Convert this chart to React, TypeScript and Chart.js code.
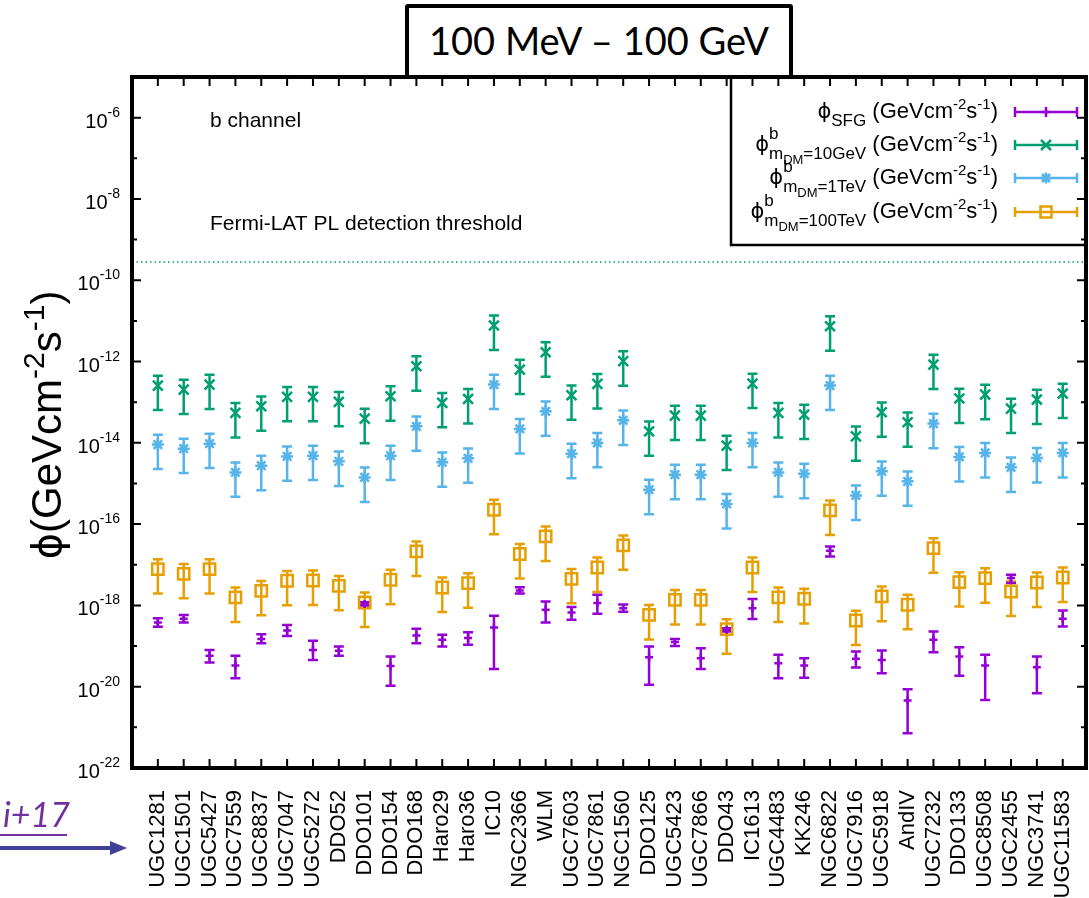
import React, { useEffect, useRef } from "react";
import { Chart, registerables } from "chart.js";

Chart.register(...registerables);

// ---------------- data ----------------
const galaxies = [
  "UGC1281", "UGC1501", "UGC5427", "UGC7559", "UGC8837", "UGC7047", "UGC5272", "DDO52",
  "DDO101", "DDO154", "DDO168", "Haro29", "Haro36", "IC10", "NGC2366", "WLM",
  "UGC7603", "UGC7861", "NGC1560", "DDO125", "UGC5423", "UGC7866", "DDO43", "IC1613",
  "UGC4483", "KK246", "NGC6822", "UGC7916", "UGC5918", "AndIV", "UGC7232", "DDO133",
  "UGC8508", "UGC2455", "NGC3741", "UGC11583",
];

// phi_SFG (centre, lower end, upper end of error bar)
const sfgFlux = [
  3.79e-19, 4.68e-19, 5.74e-20, 3.31e-20, 1.5e-19, 2.41e-19, 8.05e-20, 7.62e-20,
  1.09e-18, 3.25e-20, 1.82e-19, 1.42e-19, 1.57e-19, 2.86e-19, 2.33e-18, 7.8e-19,
  6.68e-19, 1.14e-18, 8.57e-19, 5.33e-20, 1.25e-19, 5.04e-20, 2.51e-19, 8.57e-19,
  3.79e-20, 3.31e-20, 2.21e-17, 4.84e-20, 4.57e-20, 4.55e-21, 1.42e-19, 5.51e-20,
  3.31e-20, 4.7e-18, 3.02e-20, 4.68e-19,
];
const sfgHigh = [
  4.8e-19, 5.8e-19, 8.05e-20, 5.74e-20, 1.96e-19, 3.32e-19, 1.36e-19, 9.72e-20,
  1.2e-18, 5.51e-20, 2.65e-19, 1.89e-19, 2.2e-19, 5.54e-19, 2.8e-18, 1.25e-18,
  9.08e-19, 1.82e-18, 1.05e-18, 9.72e-20, 1.5e-19, 8.87e-20, 2.75e-19, 1.43e-18,
  6.07e-20, 5.04e-20, 2.83e-17, 7.33e-20, 7.74e-20, 8.67e-21, 2.28e-19, 9.4e-20,
  6.07e-20, 5.68e-18, 5.51e-20, 7.48e-19,
];
const sfgLow = [
  3.0e-19, 3.8e-19, 3.93e-20, 1.62e-20, 1.18e-19, 1.78e-19, 4.57e-20, 5.74e-20,
  9.9e-19, 1.06e-20, 1.18e-19, 9.72e-20, 1.07e-19, 2.74e-20, 1.95e-18, 3.79e-19,
  4.42e-19, 6.21e-19, 7.0e-19, 1.11e-20, 1.0e-19, 2.74e-20, 2.28e-19, 4.6e-19,
  1.62e-20, 1.67e-20, 1.6e-17, 2.95e-20, 2.15e-20, 7.16e-22, 7.08e-20, 1.85e-20,
  4.73e-21, 3.54e-18, 6.92e-21, 3.02e-19,
];

// phi^b, m_DM = 10 GeV
const dm10GeV = [
  2.56e-13, 2.04e-13, 2.71e-13, 5.44e-14, 7.93e-14, 1.35e-13, 1.35e-13, 1.02e-13,
  3.94e-14, 1.4e-13, 7.66e-13, 9.62e-14, 1.2e-13, 7.71e-12, 6.35e-13, 1.69e-12,
  1.48e-13, 2.82e-13, 1.02e-12, 1.92e-14, 4.68e-14, 4.68e-14, 8.53e-15, 2.87e-13,
  5.44e-14, 4.95e-14, 7.39e-12, 1.44e-14, 5.64e-14, 3.2e-14, 8.43e-13, 1.23e-13,
  1.54e-13, 6.95e-14, 1.16e-13, 1.63e-13,
];
const dm10GeVErr = [
  1.92e-13, 1.53e-13, 2.03e-13, 4.08e-14, 5.95e-14, 1.01e-13, 1.01e-13, 7.65e-14,
  2.96e-14, 1.05e-13, 5.75e-13, 7.22e-14, 9.0e-14, 5.78e-12, 4.76e-13, 1.27e-12,
  1.11e-13, 2.12e-13, 7.65e-13, 1.44e-14, 3.51e-14, 3.51e-14, 6.4e-15, 2.15e-13,
  4.08e-14, 3.71e-14, 5.54e-12, 1.08e-14, 4.23e-14, 2.4e-14, 6.32e-13, 9.23e-14,
  1.16e-13, 5.21e-14, 8.7e-14, 1.22e-13,
];

// phi^b, m_DM = 1 TeV
const dm1TeV = [
  9.04e-15, 7.19e-15, 9.55e-15, 1.87e-15, 2.74e-15, 4.64e-15, 4.84e-15, 3.5e-15,
  1.41e-15, 4.84e-15, 2.55e-14, 3.31e-15, 4.15e-15, 2.71e-13, 2.2e-14, 5.97e-14,
  5.42e-15, 9.96e-15, 3.58e-14, 7.03e-16, 1.65e-15, 1.65e-15, 3.13e-16, 9.96e-15,
  1.87e-15, 1.74e-15, 2.56e-13, 5.09e-16, 1.99e-15, 1.13e-15, 2.97e-14, 4.5e-15,
  5.64e-15, 2.49e-15, 4.25e-15, 5.64e-15,
];
const dm1TeVErr = [
  6.78e-15, 5.39e-15, 7.16e-15, 1.4e-15, 2.06e-15, 3.48e-15, 3.63e-15, 2.63e-15,
  1.06e-15, 3.63e-15, 1.91e-14, 2.48e-15, 3.11e-15, 2.03e-13, 1.65e-14, 4.48e-14,
  4.07e-15, 7.47e-15, 2.69e-14, 5.27e-16, 1.24e-15, 1.24e-15, 2.35e-16, 7.47e-15,
  1.4e-15, 1.31e-15, 1.92e-13, 3.82e-16, 1.49e-15, 8.48e-16, 2.23e-14, 3.38e-15,
  4.23e-15, 1.87e-15, 3.19e-15, 4.23e-15,
];

// phi^b, m_DM = 100 TeV
const dm100TeV = [
  7.83e-18, 6.0e-18, 7.83e-18, 1.57e-18, 2.29e-18, 4.04e-18, 4.1e-18, 3.04e-18,
  1.18e-18, 4.28e-18, 2.13e-17, 2.76e-18, 3.54e-18, 2.26e-16, 1.84e-17, 4.98e-17,
  4.52e-18, 8.57e-18, 2.99e-17, 5.86e-19, 1.37e-18, 1.37e-18, 2.61e-19, 8.57e-18,
  1.57e-18, 1.46e-18, 2.17e-16, 4.25e-19, 1.66e-18, 1.04e-18, 2.58e-17, 3.75e-18,
  4.7e-18, 2.2e-18, 3.66e-18, 4.86e-18,
];
const dm100TeVErr = [
  5.87e-18, 4.5e-18, 5.87e-18, 1.18e-18, 1.72e-18, 3.03e-18, 3.08e-18, 2.28e-18,
  8.85e-19, 3.21e-18, 1.6e-17, 2.07e-18, 2.66e-18, 1.7e-16, 1.38e-17, 3.74e-17,
  3.39e-18, 6.43e-18, 2.24e-17, 4.4e-19, 1.03e-18, 1.03e-18, 1.96e-19, 6.43e-18,
  1.18e-18, 1.1e-18, 1.63e-16, 3.19e-19, 1.25e-18, 7.8e-19, 1.94e-17, 2.81e-18,
  3.53e-18, 1.65e-18, 2.75e-18, 3.65e-18,
];

const yTickExponents = [-22, -20, -18, -16, -14, -12, -10, -8, -6];
const yMinorExponents = [-21, -19, -17, -15, -13, -11, -9, -7, -5];
const thresholdFlux = 2.8e-10;

const colSFG = "#9400D3";
const colDM10 = "#009E73";
const colDM1 = "#56B4E9";
const colDM100 = "#E69F00";

const FONT = '"Liberation Sans", Arial, Helvetica, sans-serif';

// ---------------- helpers ----------------
type Seg = { t: string; size: number; dy?: number; stack?: boolean; family?: string };

function drawRich(ctx: CanvasRenderingContext2D, segs: Seg[], x: number, y: number, align: "left" | "right" | "center") {
  let w = 0;
  for (const s of segs) {
    ctx.font = `${s.size}px ${s.family || FONT}`;
    if (!s.stack) w += ctx.measureText(s.t).width;
  }
  let cx = align === "right" ? x - w : align === "center" ? x - w / 2 : x;
  ctx.textAlign = "left";
  ctx.textBaseline = "alphabetic";
  for (const s of segs) {
    ctx.font = `${s.size}px ${s.family || FONT}`;
    ctx.fillText(s.t, cx, y + (s.dy || 0));
    if (!s.stack) cx += ctx.measureText(s.t).width;
  }
}

function drawMarker(ctx: CanvasRenderingContext2D, kind: string, x: number, y: number) {
  ctx.beginPath();
  if (kind === "plus") {
    ctx.moveTo(x - 4, y); ctx.lineTo(x + 4, y);
    ctx.moveTo(x, y - 5); ctx.lineTo(x, y + 5);
  } else if (kind === "x") {
    ctx.moveTo(x - 5, y - 5); ctx.lineTo(x + 5, y + 5);
    ctx.moveTo(x - 5, y + 5); ctx.lineTo(x + 5, y - 5);
  } else if (kind === "star") {
    ctx.moveTo(x - 4, y - 4); ctx.lineTo(x + 4, y + 4);
    ctx.moveTo(x - 4, y + 4); ctx.lineTo(x + 4, y - 4);
    ctx.moveTo(x - 5.5, y); ctx.lineTo(x + 5.5, y);
    ctx.moveTo(x, y - 5.5); ctx.lineTo(x, y + 5.5);
  } else if (kind === "square") {
    ctx.rect(x - 5.5, y - 5.5, 11, 11);
  }
  ctx.stroke();
}

const errorSeries = [
  { color: colDM10, low: dm10GeV.map((v, i) => v - dm10GeVErr[i]), high: dm10GeV.map((v, i) => v + dm10GeVErr[i]) },
  { color: colDM1, low: dm1TeV.map((v, i) => v - dm1TeVErr[i]), high: dm1TeV.map((v, i) => v + dm1TeVErr[i]) },
  { color: colDM100, low: dm100TeV.map((v, i) => v - dm100TeVErr[i]), high: dm100TeV.map((v, i) => v + dm100TeVErr[i]) },
  { color: colSFG, low: sfgLow, high: sfgHigh },
];

const PHI = "ϕ";
const PHI_FAMILY = '"DejaVu Sans", sans-serif';

const unitSegs: Seg[] = [
  { t: " (GeVcm", size: 22 }, { t: "-2", size: 15, dy: -9 }, { t: "s", size: 22 },
  { t: "-1", size: 15, dy: -9 }, { t: ")", size: 22 },
];

const legendRows: { segs: Seg[]; color: string; marker: string }[] = [
  {
    color: colSFG, marker: "plus",
    segs: [{ t: PHI, size: 21, family: PHI_FAMILY }, { t: "SFG", size: 17, dy: 8 }, ...unitSegs],
  },
  {
    color: colDM10, marker: "x",
    segs: [
      { t: PHI, size: 21, family: PHI_FAMILY }, { t: "b", size: 17, dy: -12, stack: true }, { t: "m", size: 17, dy: 8 },
      { t: "DM", size: 13, dy: 13 }, { t: "=10GeV", size: 17, dy: 8 }, ...unitSegs,
    ],
  },
  {
    color: colDM1, marker: "star",
    segs: [
      { t: PHI, size: 21, family: PHI_FAMILY }, { t: "b", size: 17, dy: -12, stack: true }, { t: "m", size: 17, dy: 8 },
      { t: "DM", size: 13, dy: 13 }, { t: "=1TeV", size: 17, dy: 8 }, ...unitSegs,
    ],
  },
  {
    color: colDM100, marker: "square",
    segs: [
      { t: PHI, size: 21, family: PHI_FAMILY }, { t: "b", size: 17, dy: -12, stack: true }, { t: "m", size: 17, dy: 8 },
      { t: "DM", size: 13, dy: 13 }, { t: "=100TeV", size: 17, dy: 8 }, ...unitSegs,
    ],
  },
];

const decorPlugin = {
  id: "decor",
  beforeDatasetsDraw(chart: any) {
    const ctx: CanvasRenderingContext2D = chart.ctx;
    const xs = chart.scales.x;
    const ys = chart.scales.y;
    const a = chart.chartArea;
    ctx.save();
    // threshold
    ctx.strokeStyle = "#00A07A";
    ctx.lineWidth = 1.5;
    ctx.setLineDash([1.5, 3]);
    const ty = ys.getPixelForValue(thresholdFlux);
    ctx.beginPath();
    ctx.moveTo(a.left, ty);
    ctx.lineTo(a.right, ty);
    ctx.stroke();
    ctx.setLineDash([]);
    // error bars
    ctx.lineWidth = 2.5;
    ctx.lineCap = "butt";
    for (const s of errorSeries) {
      ctx.strokeStyle = s.color;
      for (let i = 0; i < galaxies.length; i++) {
        const x = xs.getPixelForValue(i);
        const yl = ys.getPixelForValue(Math.max(s.low[i], 1e-22));
        const yh = ys.getPixelForValue(s.high[i]);
        ctx.beginPath();
        ctx.moveTo(x, yl); ctx.lineTo(x, yh);
        ctx.moveTo(x - 5, yl); ctx.lineTo(x + 5, yl);
        ctx.moveTo(x - 5, yh); ctx.lineTo(x + 5, yh);
        ctx.stroke();
      }
    }
    ctx.restore();
  },
  afterDraw(chart: any) {
    const ctx: CanvasRenderingContext2D = chart.ctx;
    const xs = chart.scales.x;
    const ys = chart.scales.y;
    const a = chart.chartArea;
    ctx.save();
    ctx.strokeStyle = "#000";
    ctx.fillStyle = "#000";
    // ticks
    ctx.lineWidth = 2;
    ctx.beginPath();
    for (let i = 0; i < galaxies.length; i++) {
      const x = xs.getPixelForValue(i);
      ctx.moveTo(x, a.bottom); ctx.lineTo(x, a.bottom - 9);
      ctx.moveTo(x, a.top); ctx.lineTo(x, a.top + 9);
    }
    for (const e of yTickExponents) {
      const y = ys.getPixelForValue(Math.pow(10, e));
      ctx.moveTo(a.left, y); ctx.lineTo(a.left + 9, y);
      ctx.moveTo(a.right, y); ctx.lineTo(a.right - 9, y);
    }
    for (const e of yMinorExponents) {
      const y = ys.getPixelForValue(Math.pow(10, e));
      ctx.moveTo(a.left, y); ctx.lineTo(a.left + 5, y);
      ctx.moveTo(a.right, y); ctx.lineTo(a.right - 5, y);
    }
    ctx.stroke();
    // frame
    ctx.lineWidth = 4;
    ctx.strokeRect(a.left, a.top, a.right - a.left, a.bottom - a.top);
    // y tick labels
    for (const e of yTickExponents) {
      const y = ys.getPixelForValue(Math.pow(10, e));
      drawRich(ctx, [{ t: "10", size: 20 }, { t: String(e), size: 14, dy: -11 }], a.left - 12, y + 10, "right");
    }
    // y title
    ctx.save();
    ctx.translate(46, 425);
    ctx.rotate(-Math.PI / 2);
    drawRich(ctx, [
      { t: PHI, size: 40, family: PHI_FAMILY }, { t: "(GeVcm", size: 42 }, { t: "-2", size: 30, dy: -17 }, { t: "s", size: 42 },
      { t: "-1", size: 30, dy: -17 }, { t: ")", size: 42 },
    ], 0, 15, "center");
    ctx.restore();
    // annotations
    ctx.fillStyle = "#000";
    drawRich(ctx, [{ t: "b channel", size: 21 }], 210, 127, "left");
    drawRich(ctx, [{ t: "Fermi-LAT PL detection threshold", size: 21 }], 210, 230, "left");
    // legend
    ctx.lineWidth = 2.5;
    ctx.strokeRect(731, a.top, a.right - 731, 245 - a.top);
    const rowY = [112, 145, 178, 212];
    legendRows.forEach((r, k) => {
      const y = rowY[k];
      ctx.fillStyle = "#000";
      drawRich(ctx, r.segs, 998, y + 6, "right");
      ctx.strokeStyle = r.color;
      ctx.lineWidth = 2.5;
      ctx.beginPath();
      ctx.moveTo(1015, y); ctx.lineTo(1077, y);
      ctx.moveTo(1015, y - 5); ctx.lineTo(1015, y + 5);
      ctx.moveTo(1077, y - 5); ctx.lineTo(1077, y + 5);
      ctx.stroke();
      drawMarker(ctx, r.marker, 1046, y);
    });
    ctx.restore();
  },
};

export default function App() {
  const ref = useRef<HTMLCanvasElement>(null);
  useEffect(() => {
    const pts = (arr: number[]) => arr.map((v, i) => ({ x: i, y: v }));
    const chart = new Chart(ref.current as HTMLCanvasElement, {
      type: "scatter",
      data: {
        datasets: [
          { label: "SFG", data: pts(sfgFlux), pointStyle: "cross", pointRadius: 4, borderColor: colSFG, backgroundColor: colSFG, borderWidth: 2.5 },
          { label: "10GeV", data: pts(dm10GeV), pointStyle: "crossRot", pointRadius: 7, borderColor: colDM10, backgroundColor: colDM10, borderWidth: 2.5 },
          { label: "1TeV", data: pts(dm1TeV), pointStyle: "star", pointRadius: 6, borderColor: colDM1, backgroundColor: colDM1, borderWidth: 2.5 },
          { label: "100TeV", data: pts(dm100TeV), pointStyle: "rect", pointRadius: 8, borderColor: colDM100, backgroundColor: "rgba(0,0,0,0)", borderWidth: 2.5 },
        ],
      },
      options: {
        responsive: false,
        animation: false,
        devicePixelRatio: 1,
        events: [],
        layout: { autoPadding: false, padding: { top: 77, right: 3, left: 0, bottom: 0 } },
        plugins: { legend: { display: false }, tooltip: { enabled: false }, title: { display: false } },
        scales: {
          x: {
            type: "linear",
            min: -1,
            max: 35.9,
            grid: { display: false },
            border: { display: false },
            afterBuildTicks: (s: any) => {
              s.ticks = galaxies.map((_, i) => ({ value: i }));
            },
            afterFit: (s: any) => {
              s.height = 130;
              s.paddingLeft = 0;
              s.paddingRight = 0;
            },
            ticks: {
              autoSkip: false,
              minRotation: 90,
              maxRotation: 90,
              padding: 14,
              color: "#000",
              font: { family: FONT, size: 22 },
              callback: (v: any) => galaxies[v as number] ?? "",
            },
          },
          y: {
            type: "logarithmic",
            min: 1e-22,
            max: 1e-5,
            grid: { display: false },
            border: { display: false },
            ticks: { display: false },
            afterFit: (s: any) => {
              s.width = 132;
              s.paddingTop = 0;
              s.paddingBottom = 0;
            },
          },
        },
      },
      plugins: [decorPlugin],
    } as any);
    return () => chart.destroy();
  }, []);

  return (
    <div style={{ position: "absolute", left: 0, top: 0, width: 1089, height: 898, background: "#fff", overflow: "hidden" }}>
      <canvas ref={ref} width={1089} height={898} style={{ position: "absolute", left: 0, top: 0, width: 1089, height: 898 }} />
      <div
        style={{
          position: "absolute", left: 405, top: 4, width: 388, height: 75, boxSizing: "border-box",
          border: "4px solid #000", borderRadius: 3, background: "#fff", display: "flex",
          alignItems: "center", justifyContent: "center", fontFamily: 'Lato, "Open Sans", sans-serif',
          fontSize: 38, color: "#000", paddingBottom: 4,
        }}
      >
        100 MeV – 100 GeV
      </div>
      <svg width={1089} height={898} style={{ position: "absolute", left: 0, top: 0, pointerEvents: "none" }}>
        <text x={3} y={827} fill="#7030A0" fontFamily='Lato, "Open Sans", sans-serif' fontStyle="italic" fontSize={34}>
          i+17
        </text>
        <line x1={0} y1={835} x2={67} y2={835} stroke="#7030A0" strokeWidth={2} />
        <line x1={0} y1={848} x2={114} y2={848} stroke="#3F3F97" strokeWidth={4} />
        <polygon points="110,841 127,848 110,855" fill="#3F3F97" />
      </svg>
    </div>
  );
}
